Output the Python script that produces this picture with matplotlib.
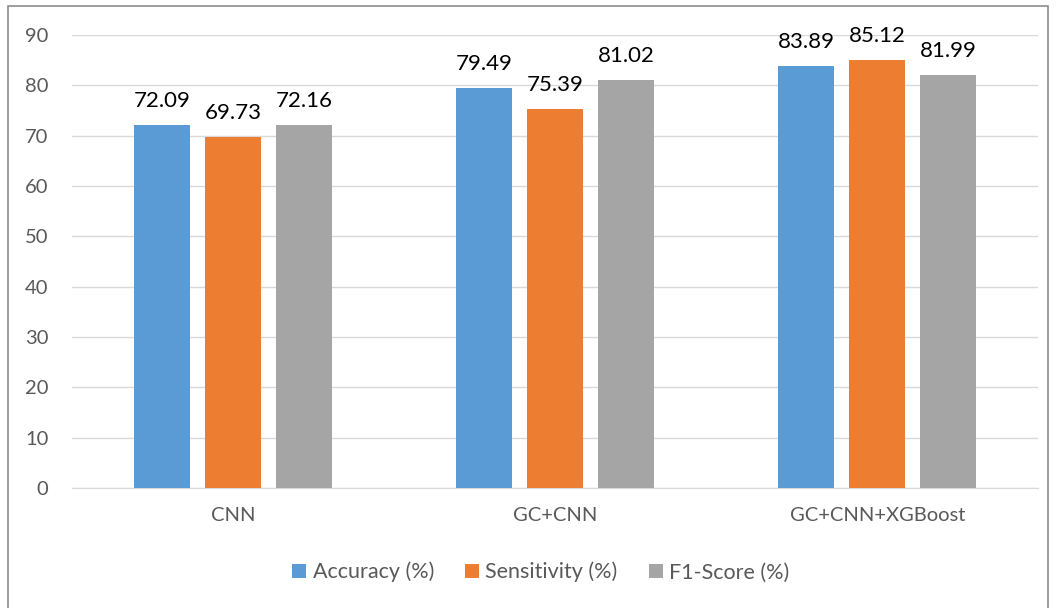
import numpy as np
import matplotlib.pyplot as plt
from matplotlib.patches import Rectangle

models = ["CNN", "GC+CNN", "GC+CNN+XGBoost"]
metrics = ["Accuracy (%)", "Sensitivity (%)", "F1-Score (%)"]
accuracy = [72.09, 79.49, 83.89]
sensitivity = [69.73, 75.39, 85.12]
f1_score = [72.16, 81.02, 81.99]
colors = ["#5B9BD5", "#ED7D31", "#A5A5A5"]

plt.rcParams["font.family"] = ["Lato", "DejaVu Sans"]

fig = plt.figure(figsize=(10.56, 6.08), dpi=100)
ax = fig.add_axes([0.0682, 0.1974, 0.915, 0.745])

x = np.arange(len(models))
width = 0.174
step = 0.2205
for i, (vals, name, c) in enumerate(zip([accuracy, sensitivity, f1_score], metrics, colors)):
    bars = ax.bar(x + (i - 1) * step, vals, width, color=c, label=name, zorder=3)
    for b, v in zip(bars, vals):
        ax.annotate(f"{v:.2f}", (b.get_x() + b.get_width() / 2, v),
                    xytext=(0, 10), textcoords="offset points",
                    ha="center", va="bottom", fontsize=16, color="black")

ax.set_xlim(-0.5, 2.5)
ax.set_ylim(0, 90)
ax.set_yticks(range(0, 91, 10))
ax.set_xticks(x)
ax.set_xticklabels(models)
ax.grid(axis="y", color="#D9D9D9", linewidth=1, zorder=0)
for s in ["top", "right", "left"]:
    ax.spines[s].set_visible(False)
ax.spines["bottom"].set_color("#D9D9D9")
ax.tick_params(axis="both", length=0, labelsize=14.5, colors="#595959")
ax.tick_params(axis="x", pad=14)
ax.tick_params(axis="y", pad=17)

ax.legend(loc="center", bbox_to_anchor=(0.512, 0.059), bbox_transform=fig.transFigure,
          ncol=3, frameon=False, fontsize=15.5, handlelength=0.65, handleheight=0.65,
          handletextpad=0.28, columnspacing=1.45, labelcolor="#595959")

# chart frame
fig.patches.append(Rectangle((8 / 1056, -0.01), 1040 / 1056, 1 - 6 / 608 + 0.01,
                             transform=fig.transFigure, fill=False,
                             edgecolor="#8C8C8C", linewidth=1.2))

fig.savefig("out.png", dpi=100)
